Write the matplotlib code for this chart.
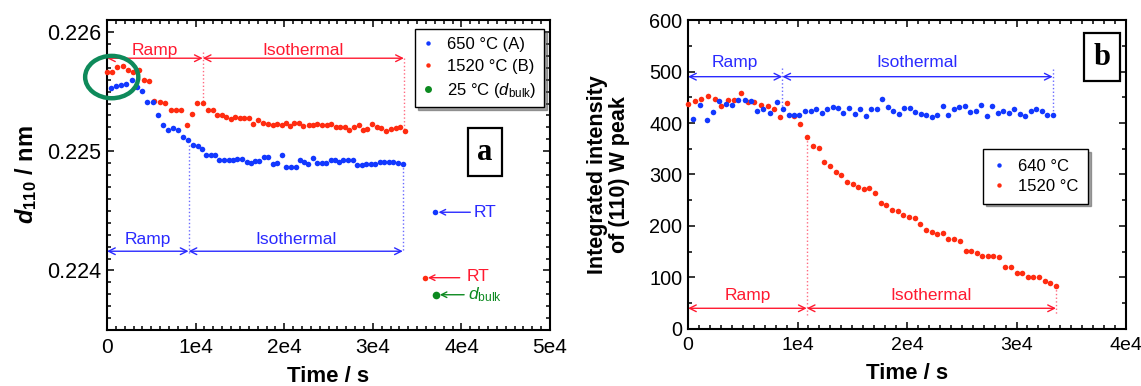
import matplotlib
matplotlib.use("Agg")
import matplotlib.pyplot as plt
from matplotlib.lines import Line2D
from matplotlib.patches import Ellipse
from matplotlib.ticker import MultipleLocator

plt.rcParams['font.family'] = ['Liberation Sans', 'DejaVu Sans']
plt.rcParams['mathtext.fontset'] = 'custom'
plt.rcParams['mathtext.rm'] = 'Liberation Sans'
plt.rcParams['mathtext.it'] = 'Liberation Sans:italic'
plt.rcParams['mathtext.bf'] = 'Liberation Sans:bold'
plt.rcParams['mathtext.bfit'] = 'Liberation Sans:bold:italic'

# ---- panel a : d110 spacing ----
a_blue_t = [450, 1020, 1580, 2150, 2790, 3350, 3950, 4550, 5160, 5730,
            6320, 6890, 7450, 8050, 8620, 9180, 9740, 10310, 10690, 11180,
            11740, 12190, 12680, 13240, 13810, 14260, 14710, 15210, 15770, 16220,
            16710, 17190, 17760, 18210, 18710, 19160, 19720, 20210, 20770, 21310,
            21790, 22240, 22730, 23220, 23740, 24240, 24730, 25260, 25740, 26230,
            26680, 27240, 27740, 28260, 28750, 29240, 29770, 30250, 30820, 31300,
            31830, 32320, 32810, 33380]
a_blue_d = [0.225527, 0.225549, 0.225552, 0.225561, 0.225600, 0.225535, 0.225507, 0.225409, 0.225409, 0.225302,
            0.225217, 0.225175, 0.225192, 0.225175, 0.225118, 0.225093, 0.225054, 0.225040, 0.225017, 0.224966,
            0.224966, 0.224966, 0.224930, 0.224924, 0.224924, 0.224924, 0.224936, 0.224936, 0.224907, 0.224902,
            0.224916, 0.224916, 0.224949, 0.224949, 0.224893, 0.224902, 0.224964, 0.224868, 0.224868, 0.224868,
            0.224924, 0.224910, 0.224890, 0.224944, 0.224902, 0.224902, 0.224902, 0.224924, 0.224924, 0.224910,
            0.224924, 0.224930, 0.224930, 0.224882, 0.224885, 0.224890, 0.224890, 0.224893, 0.224910, 0.224910,
            0.224910, 0.224907, 0.224902, 0.224893]
a_red_t = [0, 560, 1160, 1770, 2370, 2970, 3580, 4180, 4770, 5340,
           5980, 6580, 7190, 7750, 8350, 9000, 9590, 10190, 10800, 11400,
           12000, 12450, 12950, 13430, 14000, 14450, 15010, 15500, 16030, 16510,
           17010, 17570, 18140, 18700, 19150, 19720, 20200, 20660, 21140, 21700,
           22170, 22740, 23230, 23750, 24240, 24810, 25260, 25860, 26310, 26870,
           27360, 27890, 28450, 28940, 29390, 29950, 30450, 30930, 31500, 32060,
           32590, 33070, 33600]
a_red_d = [0.225662, 0.225662, 0.225704, 0.225718, 0.225684, 0.225667, 0.225684, 0.225597, 0.225591, 0.225417,
           0.225414, 0.225403, 0.225344, 0.225344, 0.225344, 0.225223, 0.225316, 0.225403, 0.225403, 0.225344,
           0.225344, 0.225304, 0.225304, 0.225290, 0.225274, 0.225290, 0.225279, 0.225279, 0.225279, 0.225231,
           0.225262, 0.225237, 0.225231, 0.225223, 0.225231, 0.225223, 0.225234, 0.225211, 0.225239, 0.225234,
           0.225211, 0.225220, 0.225220, 0.225231, 0.225217, 0.225220, 0.225231, 0.225206, 0.225206, 0.225206,
           0.225178, 0.225206, 0.225220, 0.225178, 0.225183, 0.225225, 0.225206, 0.225195, 0.225172, 0.225183,
           0.225195, 0.225206, 0.225172]
rt_blue = (37060, 0.224488)
rt_red = (35860, 0.223939)
d_bulk = (37100, 0.223796)
a_ramp_end_red, a_iso_end_red = 10800, 33500
a_ramp_end_blue, a_iso_end_blue = 9200, 33380
a_xticks = [0, 1e4, 2e4, 3e4, 4e4, 5e4]
a_xlabels = ['0', '1e4', '2e4', '3e4', '4e4', '5e4']
a_yticks = [0.224, 0.225, 0.226]
a_ylabels = ['0.224', '0.225', '0.226']
a_legend = ['650 °C (A)', '1520 °C (B)', r'25 °C ($\mathit{d}_\mathrm{bulk}$)']

# ---- panel b : integrated intensity ----
b_blue_t = [490, 1100, 1700, 2250, 2830, 3440, 3990, 4600, 5200, 5720,
            6330, 6880, 7490, 8100, 8670, 9190, 9710, 10160, 10680, 11200,
            11690, 12210, 12720, 13210, 13700, 14180, 14700, 15220, 15700, 16220,
            16710, 17230, 17740, 18230, 18750, 19240, 19750, 20240, 20750, 21250,
            21730, 22250, 22760, 23250, 23770, 24260, 24770, 25260, 25770, 26290,
            26780, 27300, 27780, 28300, 28790, 29310, 29790, 30310, 30800, 31320,
            31800, 32320, 32800, 33300]
b_blue_i = [408.2, 434.2, 406.2, 421.2, 442.0, 437.5, 435.5, 445.3, 445.3, 442.0,
            423.2, 427.1, 419.3, 440.8, 427.1, 416.0, 414.6, 414.6, 423.8, 423.8,
            427.7, 419.3, 427.1, 431.0, 429.7, 419.9, 428.4, 418.0, 426.4, 414.0,
            427.1, 427.1, 445.9, 431.6, 423.2, 416.6, 429.7, 429.0, 421.8, 417.3,
            414.6, 411.5, 414.6, 433.6, 415.4, 427.7, 430.3, 433.6, 420.5, 422.4,
            434.2, 414.0, 433.6, 419.3, 423.8, 419.9, 426.4, 416.6, 413.4, 422.4,
            426.4, 423.2, 415.4, 416.0]
b_red_t = [0, 610, 1220, 1830, 2440, 3040, 3620, 4230, 4840, 5450,
           6060, 6670, 7270, 7880, 8430, 9040, 9650, 10260, 10840, 11390,
           11930, 12420, 12970, 13490, 14000, 14490, 15040, 15520, 16040, 16550,
           17070, 17590, 18110, 18630, 19150, 19660, 20180, 20700, 21210, 21730,
           22250, 22760, 23280, 23770, 24310, 24830, 25350, 25840, 26360, 26870,
           27360, 27870, 28420, 28940, 29460, 30010, 30470, 31020, 31530, 32050,
           32570, 33080, 33600]
b_red_i = [437.5, 442.7, 447.2, 451.8, 445.9, 433.6, 445.3, 445.3, 458.3, 440.0,
           440.0, 435.5, 432.3, 426.4, 410.8, 438.8, 413.4, 398.4, 373.0, 356.0,
           351.0, 323.6, 315.8, 304.0, 298.8, 285.7, 281.8, 274.8, 272.0, 272.8,
           263.7, 245.5, 240.2, 230.5, 228.5, 220.7, 217.4, 215.4, 204.5, 192.8,
           188.9, 184.2, 185.5, 175.2, 175.2, 169.9, 151.7, 151.7, 147.8, 142.0,
           142.0, 142.0, 139.3, 119.7, 121.0, 108.8, 108.6, 101.0, 101.0, 101.0,
           93.2, 88.5, 84.0]
b_ramp_end_blue, b_iso_end_blue = 8610, 33300
b_ramp_end_red, b_iso_end_red = 10840, 33600
b_xticks = [0, 1e4, 2e4, 3e4, 4e4]
b_xlabels = ['0', '1e4', '2e4', '3e4', '4e4']
b_yticks = [0, 100, 200, 300, 400, 500, 600]
b_legend = ['640 °C', '1520 °C']

BLUE = '#1238ff'
RED = '#ff2c10'
TBLUE = '#2a2aff'
TRED = '#ff1a30'
GREEN = '#0c8a20'
RING = '#0e8a5a'
MS = 4.0


def style_axes(ax, xsize, ysize):
    ax.tick_params(which='both', direction='in', top=True, right=True, width=1.1)
    ax.tick_params(which='major', length=5)
    ax.tick_params(which='minor', length=2.8)
    ax.tick_params(axis='x', pad=6, labelsize=xsize)
    ax.tick_params(axis='y', pad=4, labelsize=ysize)
    for s in ax.spines.values():
        s.set_linewidth(1.5)


def span_arrows(ax, x0, x1, x2, y, color, fs, labels_y):
    for a, b in ((x0, x1), (x1, x2)):
        ax.annotate('', xy=(b, y), xytext=(a, y),
                    arrowprops=dict(arrowstyle='<->', color=color, lw=1.0,
                                    shrinkA=0, shrinkB=0, mutation_scale=12))
    ax.text((x0 + x1) / 2, labels_y, 'Ramp', color=color, fontsize=fs,
            ha='center', va='center')
    ax.text((x1 + x2) / 2, labels_y, 'Isothermal', color=color, fontsize=fs,
            ha='center', va='center')


def boxed_legend(ax, handles, labels, anchor, borderpad, labelspacing):
    leg = ax.legend(handles, labels, loc='upper right', bbox_to_anchor=anchor,
                    fontsize=12, frameon=True, fancybox=False, shadow=True,
                    handlelength=0.7, handletextpad=0.8, labelspacing=labelspacing,
                    borderpad=borderpad, borderaxespad=0)
    leg.get_frame().set_edgecolor('black')
    leg.get_frame().set_linewidth(1)
    return leg


def dot(color, size=3.2):
    return Line2D([], [], marker='o', ls='none', color=color, ms=size, mew=0)


fig = plt.figure(figsize=(11.41, 3.86), dpi=100)
axa = fig.add_axes([0.0938, 0.145, 0.3883, 0.803])
axb = fig.add_axes([0.603, 0.148, 0.3839, 0.800])

# ---------------- panel a ----------------
axa.plot(a_red_t, a_red_d, 'o', color=RED, ms=MS, mew=0, clip_on=False, zorder=3)
axa.plot(a_blue_t, a_blue_d, 'o', color=BLUE, ms=MS, mew=0, clip_on=False, zorder=3)
axa.plot(*rt_blue, 'o', color=BLUE, ms=MS, mew=0)
axa.plot(*rt_red, 'o', color=RED, ms=MS, mew=0)
axa.plot(*d_bulk, 'o', color=GREEN, ms=5.5, mew=0)

axa.set_xlim(0, 5e4)
axa.set_ylim(0.2235, 0.2261)
axa.set_xticks(a_xticks)
axa.set_xticklabels(a_xlabels)
axa.set_yticks(a_yticks)
axa.set_yticklabels(a_ylabels)
axa.xaxis.set_minor_locator(MultipleLocator(1000))
axa.yaxis.set_minor_locator(MultipleLocator(0.0001))
style_axes(axa, 15, 15.5)

# red ramp / isothermal
span_arrows(axa, 0, a_ramp_end_red, a_iso_end_red, 0.22578, TRED, 12.5, 0.225845)
axa.plot([a_ramp_end_red, a_ramp_end_red], [0.22583, 0.22540], ':', color='#ff6a80', lw=1)
axa.plot([a_iso_end_red, a_iso_end_red], [0.22578, 0.22518], ':', color='#ff6a80', lw=1)
# blue ramp / isothermal
span_arrows(axa, 0, a_ramp_end_blue, a_iso_end_blue, 0.224161, TBLUE, 12.5, 0.22426)
axa.plot([a_ramp_end_blue, a_ramp_end_blue], [0.22505, 0.22413], ':', color='#6a6aff', lw=1)
axa.plot([a_iso_end_blue, a_iso_end_blue], [0.22489, 0.22416], ':', color='#6a6aff', lw=1)

# RT markers
axa.annotate('', xy=(rt_blue[0] + 350, rt_blue[1]), xytext=(41000, rt_blue[1]),
             arrowprops=dict(arrowstyle='->', color=TBLUE, lw=1, shrinkA=0, shrinkB=0))
axa.text(41400, rt_blue[1], 'RT', color=TBLUE, fontsize=12.5, va='center')
axa.annotate('', xy=(rt_red[0] + 350, rt_red[1]), xytext=(39800, rt_red[1]),
             arrowprops=dict(arrowstyle='->', color=TRED, lw=1, shrinkA=0, shrinkB=0))
axa.text(40600, rt_red[1] + 0.00001, 'RT', color=TRED, fontsize=12.5, va='center')
axa.annotate('', xy=(d_bulk[0] + 450, d_bulk[1]), xytext=(40300, d_bulk[1]),
             arrowprops=dict(arrowstyle='->', color=GREEN, lw=1, shrinkA=0, shrinkB=0))
axa.text(40700, d_bulk[1], r'$\mathit{d}_\mathrm{bulk}$', color=GREEN, fontsize=12.5, va='center')

ring = Ellipse((530, 0.225622), 6000, 0.000355, fill=False, ec=RING, lw=3.2,
               clip_on=False, zorder=4)
axa.add_patch(ring)

boxed_legend(axa, [dot(BLUE), dot(RED), dot(GREEN, 5)], a_legend,
             (0.987, 0.971), 0.45, 0.42)

axa.text(0.853, 0.574, 'a', transform=axa.transAxes, fontsize=22, fontweight='bold',
         family='Liberation Serif', ha='center', va='center',
         bbox=dict(boxstyle='square,pad=0.3', fc='white', ec='black', lw=1.6))

axa.set_xlabel('Time / s', fontsize=16, fontweight='bold', labelpad=6)
axa.set_ylabel(r'$\mathbfit{d}_{\mathbf{110}}$ / nm', fontsize=17, fontweight='bold', labelpad=6)

# ---------------- panel b ----------------
axb.plot(b_red_t, b_red_i, 'o', color=RED, ms=MS, mew=0, clip_on=False, zorder=3)
axb.plot(b_blue_t, b_blue_i, 'o', color=BLUE, ms=MS, mew=0, clip_on=False, zorder=3)
axb.set_xlim(0, 4e4)
axb.set_ylim(0, 600)
axb.set_xticks(b_xticks)
axb.set_xticklabels(b_xlabels)
axb.set_yticks(b_yticks)
axb.xaxis.set_minor_locator(MultipleLocator(1000))
axb.yaxis.set_minor_locator(MultipleLocator(50))
style_axes(axb, 14, 14.3)

span_arrows(axb, 0, b_ramp_end_blue, b_iso_end_blue, 490, TBLUE, 12.5, 518)
axb.plot([b_ramp_end_blue, b_ramp_end_blue], [506, 428], ':', color='#6a6aff', lw=1)
axb.plot([b_iso_end_blue, b_iso_end_blue], [505, 416], ':', color='#6a6aff', lw=1)
span_arrows(axb, 0, b_ramp_end_red, b_iso_end_red, 40, TRED, 12.5, 64)
axb.plot([b_ramp_end_red, b_ramp_end_red], [373, 27], ':', color='#ff6a80', lw=1)
axb.plot([b_iso_end_red, b_iso_end_red], [84, 27], ':', color='#ff6a80', lw=1)

boxed_legend(axb, [dot(BLUE), dot(RED)], b_legend, (0.913, 0.583), 0.58, 0.32)

axb.text(0.945, 0.880, 'b', transform=axb.transAxes, fontsize=22, fontweight='bold',
         family='Liberation Serif', ha='center', va='center',
         bbox=dict(boxstyle='square,pad=0.3', fc='white', ec='black', lw=1.6))

axb.set_xlabel('Time / s', fontsize=16, fontweight='bold', labelpad=6)
axb.set_ylabel('Integrated intensity\nof (110) W peak', fontsize=15.5,
               fontweight='bold', labelpad=14, linespacing=1.05)

fig.savefig('out.png', dpi=100)
